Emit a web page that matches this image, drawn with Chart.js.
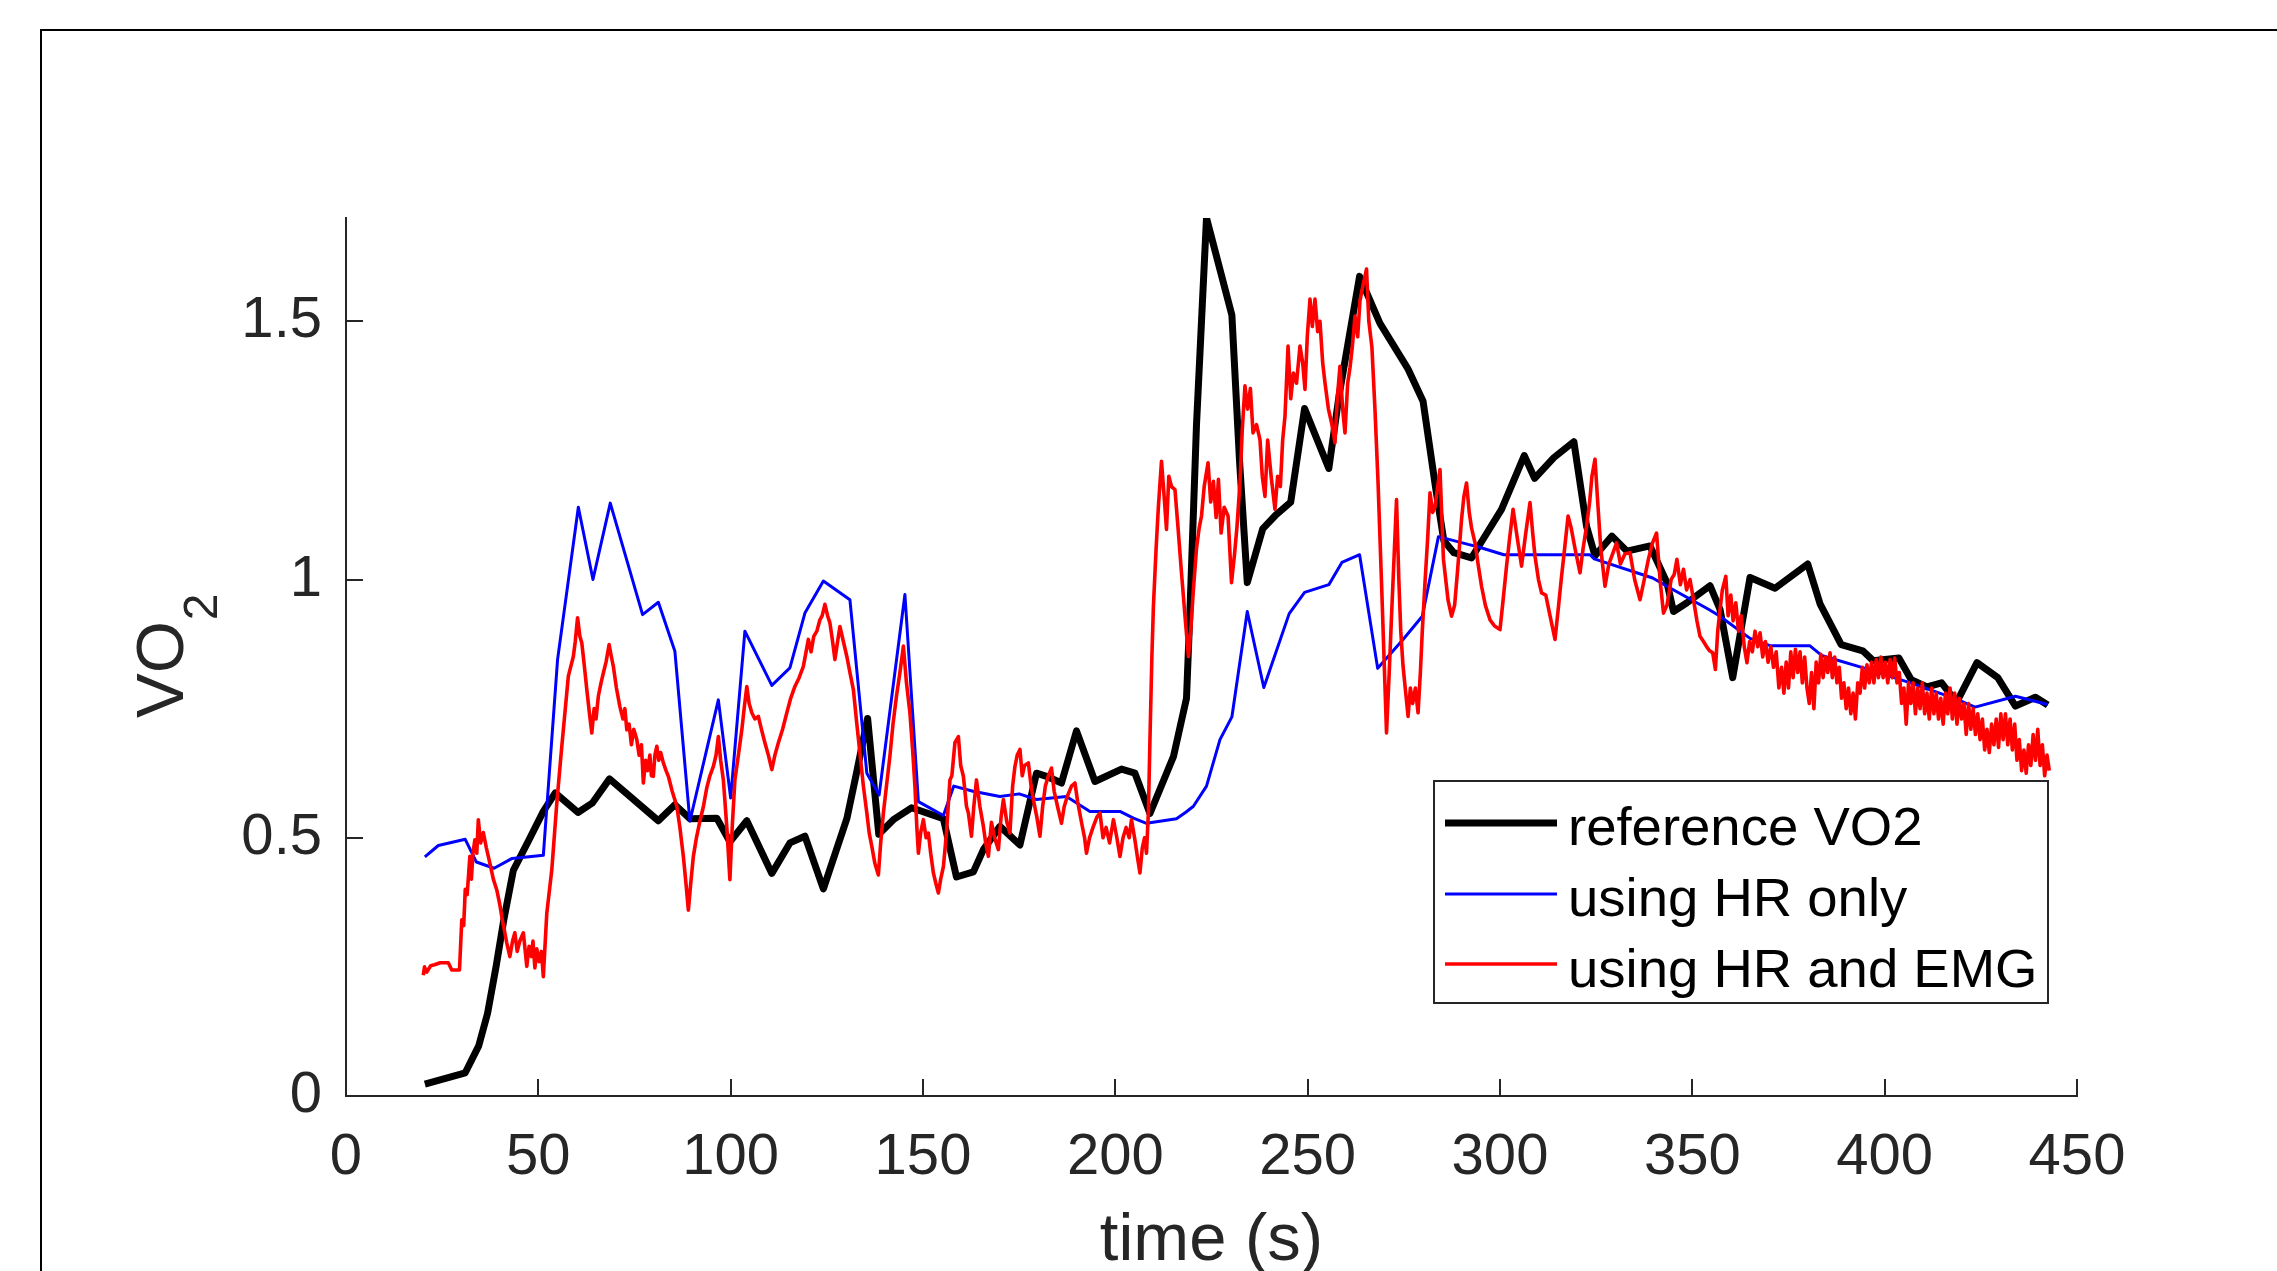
<!DOCTYPE html>
<html><head><meta charset="utf-8">
<script src="https://cdn.jsdelivr.net/npm/chart.js@4.4.1/dist/chart.umd.min.js"></script>
<style>html,body{margin:0;padding:0;background:#fff;}#wrap{width:2277px;height:1271px;}</style>
</head><body><div id="wrap"><canvas id="c" width="2277" height="1271"></canvas></div>
<script>
const xTicks = [0,50,100,150,200,250,300,350,400,450];
const yTicks = [0,0.5,1,1.5];
const seriesNames = ['reference VO2','using HR only','using HR and EMG'];
const xTitle = 'time (s)';

// [time (s), VO2]
const referenceVO2 = [[20.5,0.023],[31,0.045],[34.5,0.097],[36.8,0.16],[39,0.25],[41,0.34],[43.5,0.437],[47.5,0.495],[51.3,0.551],[54.4,0.587],[60.3,0.549],[64,0.567],[68.5,0.614],[81.2,0.533],[85.5,0.564],[89.4,0.537],[96.4,0.538],[99.8,0.492],[104.2,0.533],[110.7,0.431],[115.4,0.49],[119.3,0.503],[124.1,0.401],[130.2,0.537],[132.7,0.625],[135.6,0.731],[138.5,0.507],[142.3,0.535],[147,0.558],[155.3,0.537],[158.7,0.424],[163.1,0.434],[165.7,0.477],[170,0.522],[175.2,0.486],[179.5,0.625],[182.1,0.619],[186,0.606],[189.9,0.707],[194.7,0.609],[201.6,0.633],[205.1,0.625],[209,0.547],[215.1,0.657],[218.5,0.77],[219.4,0.94],[221.1,1.3],[223.7,1.70],[230.3,1.512],[232.3,1.228],[234.3,0.994],[238.3,1.098],[241.6,1.124],[245.6,1.15],[249.2,1.331],[255.5,1.215],[258.2,1.358],[263.5,1.587],[268.8,1.496],[276,1.409],[280,1.345],[283.3,1.176],[285.4,1.075],[288,1.052],[292.6,1.042],[295.6,1.078],[300.4,1.136],[306.3,1.24],[309,1.196],[314,1.236],[319.2,1.267],[322.5,1.103],[324.7,1.046],[329.1,1.084],[333,1.055],[339,1.065],[343.4,0.994],[345.1,0.938],[348.6,0.955],[354.6,0.988],[357.2,0.942],[360.5,0.81],[365,1.004],[371.5,0.983],[380,1.03],[383.2,0.953],[388.7,0.874],[394.3,0.862],[397,0.843],[403.7,0.848],[406.9,0.806],[411,0.792],[414.8,0.8],[418.7,0.762],[424,0.839],[429.4,0.81],[434,0.755],[439.2,0.772],[442.4,0.757]];

const hrOnly = [[20.5,0.463],[24,0.485],[31,0.497],[33.9,0.453],[38.5,0.441],[43.2,0.46],[51.3,0.466],[55,0.845],[60.4,1.14],[64.2,1.0],[68.7,1.148],[77.1,0.932],[81.2,0.956],[85.5,0.861],[89.4,0.532],[96.8,0.767],[100,0.577],[103.7,0.9],[110.7,0.795],[115.4,0.829],[119.3,0.935],[124.1,0.997],[131,0.961],[135.4,0.625],[138.6,0.583],[145.3,0.971],[148.8,0.57],[155.3,0.543],[158,0.6],[163,0.59],[170,0.58],[175,0.585],[179.5,0.574],[187.3,0.58],[193.4,0.551],[201.2,0.551],[204.7,0.538],[208.1,0.528],[215.9,0.537],[218.4,0.55],[220.3,0.561],[223.7,0.6],[227.2,0.69],[230.3,0.734],[234.3,0.938],[238.6,0.791],[245.2,0.934],[249.2,0.975],[255.5,0.99],[258.9,1.033],[263.5,1.048],[268.2,0.828],[274.8,0.884],[279.8,0.929],[284,1.083],[291.7,1.068],[294,1.064],[301,1.048],[323.4,1.048],[324.5,1.04],[339.7,1.003],[343.4,0.987],[354.3,0.942],[357,0.93],[365,0.886],[370.2,0.872],[380.5,0.872],[383.6,0.853],[395.8,0.826],[406.7,0.8],[418.5,0.769],[423.5,0.753],[434,0.774],[442.4,0.758]];

const hrAndEmg = [[20.1,0.234],[20.4,0.25],[21,0.24],[22,0.252],[23,0.254],[24.5,0.258],[26.6,0.258],[27.5,0.244],[29.5,0.244],[30.1,0.341],[30.6,0.33],[31,0.40],[31.5,0.39],[32.2,0.464],[32.6,0.42],[33,0.47],[33.5,0.496],[34,0.47],[34.4,0.535],[35,0.49],[35.7,0.51],[36.5,0.48],[37.4,0.451],[38.3,0.42],[39.2,0.399],[40,0.37],[40.5,0.347],[41.2,0.32],[41.8,0.296],[42.6,0.27],[43.3,0.3],[43.9,0.316],[44.5,0.28],[45.2,0.3],[46.1,0.316],[46.6,0.28],[47,0.251],[47.6,0.29],[48.2,0.27],[48.6,0.3],[49.1,0.248],[49.6,0.285],[50.2,0.26],[50.8,0.28],[51.3,0.231],[52.2,0.354],[53.5,0.438],[54.8,0.567],[56.1,0.677],[57.8,0.813],[59.1,0.851],[59.6,0.88],[60.2,0.926],[60.8,0.89],[61.3,0.877],[62,0.83],[62.6,0.787],[63.3,0.74],[63.9,0.703],[64.5,0.75],[65,0.73],[65.6,0.774],[66.3,0.8],[66.9,0.819],[67.6,0.84],[68.4,0.874],[69,0.85],[69.5,0.832],[70.3,0.79],[71.2,0.754],[72,0.73],[72.5,0.75],[73,0.709],[73.6,0.72],[74.2,0.68],[74.8,0.71],[75.6,0.69],[76.2,0.66],[76.8,0.68],[77.3,0.606],[77.9,0.65],[78.4,0.63],[79,0.66],[79.4,0.62],[79.9,0.619],[80.3,0.66],[80.8,0.677],[81.3,0.65],[81.8,0.665],[82.5,0.645],[83.2,0.63],[83.8,0.619],[84.8,0.59],[86,0.561],[86.8,0.52],[87.7,0.464],[88.4,0.41],[89,0.36],[89.6,0.41],[90.3,0.464],[91.1,0.5],[92,0.532],[92.9,0.56],[93.8,0.597],[94.6,0.62],[95.5,0.638],[96.2,0.66],[96.8,0.696],[97.4,0.65],[98.1,0.612],[99,0.52],[99.8,0.419],[100.4,0.52],[101.1,0.612],[102,0.66],[102.9,0.709],[103.5,0.75],[104.2,0.793],[104.8,0.76],[105.5,0.742],[106.3,0.73],[107.2,0.735],[108,0.71],[108.9,0.684],[109.8,0.66],[110.7,0.632],[111.5,0.66],[112.4,0.684],[113.5,0.71],[114.6,0.742],[115.6,0.77],[116.7,0.793],[117.8,0.81],[118.9,0.832],[119.6,0.86],[120.2,0.884],[120.9,0.86],[121.6,0.89],[122.4,0.9],[123.2,0.922],[123.8,0.93],[124.5,0.952],[125.2,0.93],[125.8,0.916],[126.5,0.88],[127.1,0.845],[127.8,0.88],[128.4,0.909],[129.3,0.88],[130.2,0.851],[131,0.82],[131.9,0.787],[132.8,0.72],[133.6,0.664],[134.5,0.6],[135.4,0.548],[136,0.51],[136.7,0.483],[137.5,0.45],[138.4,0.428],[139,0.49],[139.7,0.548],[140.5,0.6],[141.4,0.658],[142.2,0.72],[143.1,0.774],[144,0.82],[144.9,0.871],[145.7,0.8],[146.6,0.742],[147.3,0.67],[147.9,0.6],[148.4,0.52],[148.8,0.47],[149.4,0.51],[150.1,0.535],[150.8,0.5],[151.4,0.509],[152,0.47],[152.7,0.432],[153.4,0.41],[154,0.393],[154.6,0.42],[155.3,0.444],[156.1,0.509],[157,0.612],[157.5,0.62],[158.3,0.684],[159.2,0.696],[159.8,0.64],[160.5,0.619],[161.3,0.561],[161.8,0.548],[162.6,0.503],[163.2,0.56],[163.9,0.612],[164.8,0.56],[165.7,0.522],[166.3,0.49],[167,0.464],[167.8,0.53],[168.6,0.5],[169.6,0.477],[170.3,0.54],[170.9,0.574],[171.8,0.53],[172.6,0.509],[173.3,0.6],[173.9,0.638],[174.5,0.66],[175.2,0.671],[175.8,0.62],[176.4,0.64],[177.4,0.645],[178.1,0.6],[178.7,0.574],[179.6,0.54],[180.4,0.503],[181.1,0.56],[181.8,0.6],[182.6,0.62],[183.4,0.635],[184.1,0.59],[185,0.56],[186,0.528],[186.7,0.56],[187.5,0.58],[188.6,0.6],[189.5,0.606],[190.2,0.57],[191.2,0.53],[192,0.5],[192.5,0.47],[193.3,0.5],[194.2,0.52],[195.2,0.54],[196,0.548],[196.8,0.5],[197.6,0.52],[198.5,0.49],[199.5,0.535],[200.4,0.5],[201.2,0.464],[202,0.5],[202.8,0.52],[203.6,0.5],[204.2,0.535],[205,0.5],[205.8,0.46],[206.4,0.432],[207,0.48],[207.6,0.5],[208.1,0.47],[208.6,0.55],[209,0.69],[209.5,0.85],[209.9,0.948],[210.6,1.06],[211.2,1.142],[212,1.229],[212.6,1.17],[213.3,1.097],[213.9,1.2],[214.6,1.18],[215.5,1.174],[216.3,1.1],[217.2,1.013],[218.1,0.93],[219,0.851],[219.6,0.9],[220.3,0.981],[221.1,1.06],[221.8,1.1],[222.4,1.123],[223.1,1.18],[224.1,1.226],[224.8,1.15],[225.5,1.19],[226.2,1.12],[226.8,1.194],[227.5,1.09],[228.3,1.14],[229.3,1.123],[230.2,0.994],[231,1.05],[231.6,1.1],[232.4,1.187],[233,1.29],[233.7,1.375],[234.4,1.33],[235.1,1.37],[235.8,1.284],[236.7,1.3],[237.6,1.271],[238.2,1.2],[238.9,1.161],[239.6,1.27],[240.5,1.2],[241.5,1.136],[242.2,1.2],[242.9,1.18],[243.5,1.27],[244.1,1.316],[244.9,1.452],[245.6,1.35],[246.3,1.4],[247.1,1.38],[248,1.452],[248.7,1.42],[249.3,1.368],[249.9,1.47],[250.6,1.543],[251.2,1.49],[251.9,1.543],[252.6,1.48],[253.2,1.5],[253.9,1.42],[254.5,1.381],[255.4,1.33],[256.2,1.304],[257.1,1.265],[257.7,1.35],[258.4,1.413],[259.1,1.33],[259.7,1.284],[260.4,1.38],[261,1.41],[261.6,1.45],[262.3,1.51],[263,1.47],[263.6,1.54],[264.4,1.57],[265.3,1.601],[265.9,1.5],[266.7,1.45],[267.5,1.329],[268.3,1.187],[269.2,0.994],[270.5,0.703],[271.2,0.82],[271.8,0.929],[272.5,1.05],[273.1,1.155],[273.7,1.0],[274.2,0.9],[274.8,0.832],[275.5,0.78],[276.1,0.735],[276.7,0.79],[277.3,0.76],[278,0.79],[278.7,0.742],[279.3,0.82],[279.8,0.9],[280.5,0.994],[281.2,1.08],[281.8,1.168],[282.5,1.13],[283.1,1.14],[283.8,1.18],[284.4,1.213],[285.3,1.039],[286.5,0.96],[287.4,0.929],[288.2,0.95],[289,1.02],[290,1.116],[290.6,1.16],[291.3,1.187],[292,1.13],[292.6,1.1],[293.5,1.071],[294.3,1.03],[295.2,0.987],[296.2,0.95],[297.4,0.922],[298.6,0.91],[300,0.903],[300.8,0.96],[301.7,1.026],[302.5,1.08],[303.4,1.136],[304.5,1.08],[305.6,1.026],[306.7,1.09],[307.8,1.149],[308.5,1.09],[309.1,1.045],[310,1.0],[310.8,0.974],[311.9,0.97],[313,0.93],[314.3,0.884],[315.1,0.94],[316,1.006],[316.8,1.06],[317.7,1.123],[318.5,1.1],[319.5,1.06],[320.8,1.013],[321.6,1.06],[322.5,1.103],[323.3,1.15],[323.9,1.2],[324.7,1.233],[325.4,1.15],[326.2,1.06],[327.3,0.987],[328.3,1.03],[329.3,1.05],[330.3,1.071],[331.3,1.03],[332.5,1.05],[333.8,1.052],[335,1.0],[336.4,0.961],[337.5,1.0],[338.6,1.04],[339.6,1.07],[340.7,1.09],[341.6,1.0],[342.5,0.935],[343.4,0.95],[344.5,1.0],[345.3,1.01],[346,1.039],[346.9,0.99],[347.7,1.02],[348.5,0.98],[349.4,1.0],[350.3,0.961],[351.2,0.92],[352,0.89],[352.9,0.88],[353.7,0.87],[354.5,0.862],[355.3,0.858],[356,0.826],[356.6,0.9],[357.2,0.942],[357.8,0.98],[358.7,1.006],[359.3,0.93],[360,0.97],[360.6,0.92],[361.3,0.955],[362,0.9],[362.7,0.93],[363.5,0.87],[364.2,0.839],[364.9,0.88],[365.6,0.86],[366.3,0.9],[367,0.87],[367.6,0.897],[368.3,0.85],[369,0.88],[369.7,0.84],[370.4,0.87],[371.1,0.83],[371.8,0.86],[372.5,0.79],[373.2,0.83],[373.8,0.78],[374.4,0.84],[375,0.79],[375.6,0.86],[376.2,0.81],[376.8,0.865],[377.4,0.82],[378,0.86],[378.6,0.8],[379.2,0.85],[379.8,0.79],[380.4,0.76],[381,0.82],[381.6,0.75],[382.2,0.84],[382.8,0.8],[383.4,0.855],[384,0.81],[384.6,0.85],[385.2,0.82],[385.8,0.858],[386.4,0.81],[387,0.85],[387.6,0.8],[388.2,0.83],[388.8,0.77],[389.4,0.8],[390,0.75],[390.6,0.79],[391.2,0.74],[391.8,0.78],[392.4,0.73],[393,0.8],[393.6,0.78],[394.2,0.83],[394.8,0.79],[395.4,0.835],[396,0.8],[396.6,0.84],[397.2,0.8],[397.8,0.845],[398.4,0.81],[399,0.85],[399.6,0.81],[400.2,0.84],[400.8,0.8],[401.4,0.845],[402,0.81],[402.6,0.848],[403.2,0.8],[403.8,0.82],[404.4,0.76],[405,0.79],[405.6,0.72],[406.2,0.8],[406.8,0.76],[407.4,0.8],[408,0.74],[408.6,0.79],[409.2,0.75],[409.8,0.8],[410.4,0.74],[411,0.78],[411.6,0.73],[412.2,0.79],[412.8,0.74],[413.4,0.78],[414,0.73],[414.6,0.77],[415.2,0.72],[415.8,0.78],[416.4,0.74],[417,0.79],[417.6,0.73],[418.2,0.78],[418.8,0.72],[419.4,0.77],[420,0.73],[420.6,0.76],[421.2,0.7],[421.8,0.76],[422.4,0.71],[423,0.75],[423.6,0.7],[424.2,0.74],[424.8,0.69],[425.4,0.73],[426,0.67],[426.6,0.71],[427.2,0.665],[427.8,0.72],[428.4,0.68],[429,0.73],[429.6,0.675],[430.2,0.74],[430.8,0.69],[431.4,0.74],[432,0.68],[432.6,0.73],[433.2,0.67],[433.8,0.72],[434.4,0.65],[435,0.69],[435.6,0.63],[436.2,0.67],[436.8,0.625],[437.4,0.68],[438,0.64],[438.6,0.7],[439.2,0.65],[439.8,0.71],[440.4,0.64],[441,0.68],[441.6,0.62],[442.2,0.66],[442.8,0.63]];

const AXIS = '#262626';
const FONT = '"Liberation Sans", Arial, Helvetica, sans-serif';
const toXY = arr => arr.map(p => ({x: p[0], y: p[1]}));

const lineStyles = [
  {color: '#000000', width: 7},
  {color: '#0000ff', width: 3},
  {color: '#ff0000', width: 3.6}
];

const decor = {
  id: 'decor',
  beforeDraw(chart) {
    const ctx = chart.ctx;
    ctx.save();
    ctx.fillStyle = '#ffffff';
    ctx.fillRect(0, 0, chart.width, chart.height);
    ctx.restore();
  },
  afterDraw(chart) {
    const ctx = chart.ctx, xs = chart.scales.x, ys = chart.scales.y, ca = chart.chartArea;
    ctx.save();
    // inward tick marks
    ctx.strokeStyle = AXIS; ctx.lineWidth = 2;
    ctx.beginPath();
    xTicks.forEach(v => { const p = Math.round(xs.getPixelForValue(v)); ctx.moveTo(p, ca.bottom); ctx.lineTo(p, ca.bottom - 17); });
    yTicks.forEach(v => { const p = Math.round(ys.getPixelForValue(v)); ctx.moveTo(ca.left, p); ctx.lineTo(ca.left + 17, p); });
    ctx.stroke();
    // figure frame (partially visible)
    ctx.strokeStyle = '#000'; ctx.lineWidth = 2;
    ctx.beginPath(); ctx.moveTo(41, chart.height); ctx.lineTo(41, 30); ctx.lineTo(chart.width, 30); ctx.stroke();
    // x title
    ctx.fillStyle = AXIS;
    ctx.font = '67px ' + FONT;
    ctx.textAlign = 'center'; ctx.textBaseline = 'alphabetic';
    ctx.fillText(xTitle, (ca.left + ca.right) / 2, 1260);
    // y title VO_2
    ctx.save();
    ctx.translate(183, 718); ctx.rotate(-Math.PI / 2);
    ctx.textAlign = 'left';
    ctx.font = '67px ' + FONT;
    ctx.fillText('VO', 0, 0);
    const w = ctx.measureText('VO').width;
    ctx.font = '48px ' + FONT;
    ctx.fillText('2', w + 1, 34);
    ctx.restore();
    // legend
    const lx = 1434, ly = 781, lw = 614, lh = 222;
    ctx.fillStyle = '#fff'; ctx.fillRect(lx, ly, lw, lh);
    ctx.strokeStyle = AXIS; ctx.lineWidth = 2; ctx.strokeRect(lx, ly, lw, lh);
    const rows = [823, 894, 964];
    const bases = [845, 916, 987];
    ctx.font = '54.5px ' + FONT; ctx.textAlign = 'left'; ctx.fillStyle = '#000';
    seriesNames.forEach((name, i) => {
      ctx.strokeStyle = lineStyles[i].color; ctx.lineWidth = Math.min(lineStyles[i].width, 7);
      ctx.beginPath(); ctx.moveTo(1445, rows[i]); ctx.lineTo(1557, rows[i]); ctx.stroke();
      ctx.fillText(name, 1568, bases[i]);
    });
    ctx.restore();
  }
};

const seriesData = [referenceVO2, hrOnly, hrAndEmg];
new Chart(document.getElementById('c'), {
  type: 'line',
  data: {
    datasets: seriesData.map((d, i) => ({
      label: seriesNames[i],
      data: toXY(d),
      borderColor: lineStyles[i].color,
      backgroundColor: lineStyles[i].color,
      borderWidth: lineStyles[i].width,
      pointRadius: 0,
      tension: 0,
      fill: false,
      borderJoinStyle: 'round',
      order: 3 - i
    }))
  },
  options: {
    responsive: false,
    devicePixelRatio: 1,
    animation: false,
    events: [],
    layout: {padding: {top: 218, right: 200, left: 0, bottom: 0}},
    plugins: {legend: {display: false}, tooltip: {enabled: false}},
    scales: {
      x: {
        type: 'linear', min: 0, max: 450,
        afterFit: s => { s.height = 175; },
        grid: {display: false, drawTicks: false},
        border: {display: true, color: AXIS, width: 2},
        ticks: {stepSize: 50, autoSkip: false, maxRotation: 0, padding: 27, color: AXIS, font: {family: FONT, size: 58}}
      },
      y: {
        type: 'linear', min: 0, max: 1.7,
        afterFit: s => { s.width = 346; },
        grid: {display: false, drawTicks: false},
        border: {display: true, color: AXIS, width: 2},
        ticks: {stepSize: 0.5, includeBounds: false, padding: 24, color: AXIS, font: {family: FONT, size: 58}, callback: v => String(v)}
      }
    }
  },
  plugins: [decor]
});
</script>
</body></html>
